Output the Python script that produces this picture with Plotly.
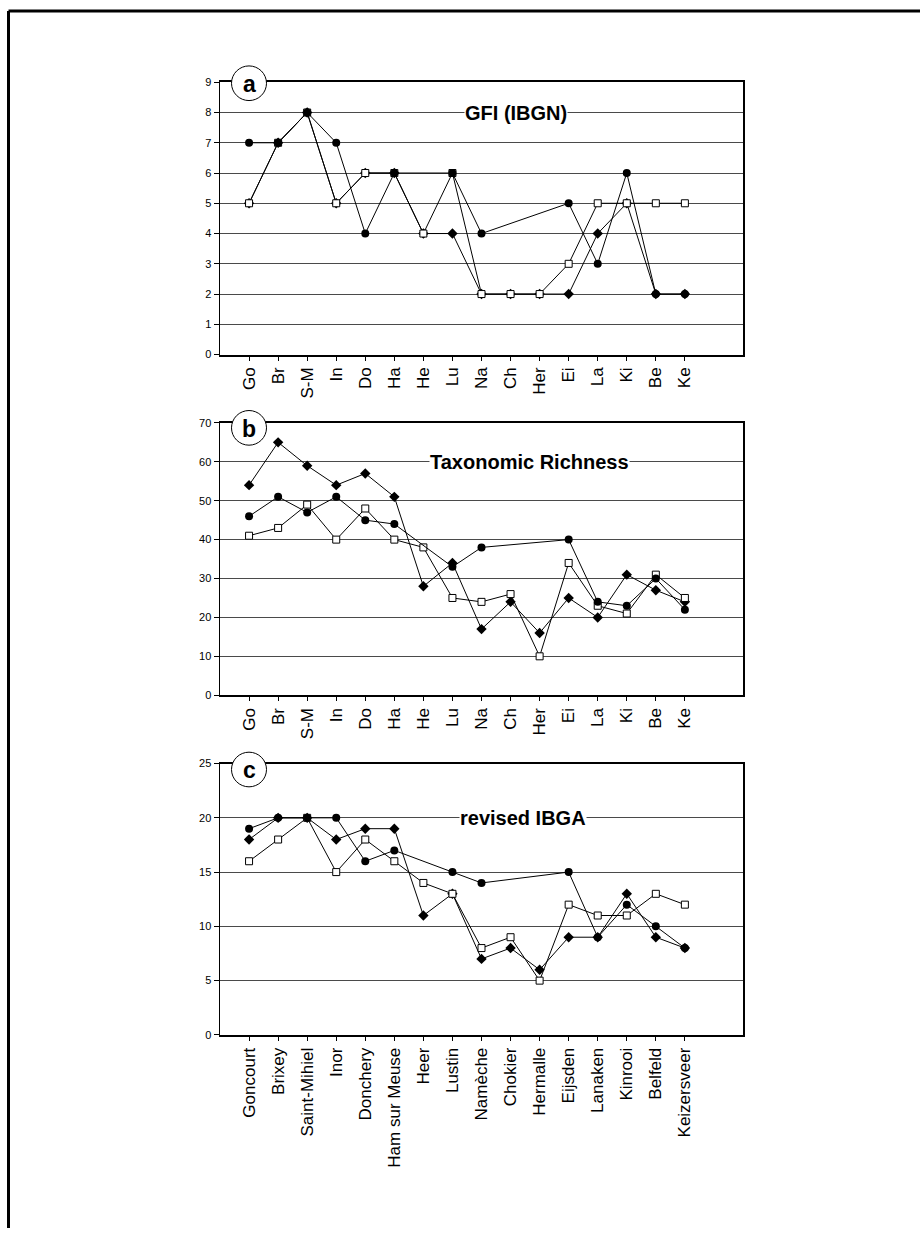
import plotly.graph_objects as go

# ---------------- data ----------------
short_labels = ["Go", "Br", "S-M", "In", "Do", "Ha", "He", "Lu", "Na", "Ch",
                "Her", "Ei", "La", "Ki", "Be", "Ke"]
long_labels = ["Goncourt", "Brixey", "Saint-Mihiel", "Inor", "Donchery",
               "Ham sur Meuse", "Heer", "Lustin", "Namèche", "Chokier",
               "Hermalle", "Eijsden", "Lanaken", "Kinrooi", "Belfeld",
               "Keizersveer"]
positions = list(range(16))

# panel a: GFI (IBGN)
gfi_circle = [7, 7, 8, 7, 4, 6, None, 6, 4, None, None, 5, 3, 6, 2, 2]
gfi_diamond = [5, 7, 8, 5, 6, 6, 4, 4, 2, 2, 2, 2, 4, 5, 2, 2]
gfi_square = [5, 7, 8, 5, 6, 6, 4, 6, 2, 2, 2, 3, 5, 5, 5, 5]

# panel b: Taxonomic Richness
tr_circle = [46, 51, 47, 51, 45, 44, None, 33, 38, None, None, 40, 24, 23, 30, 22]
tr_diamond = [54, 65, 59, 54, 57, 51, 28, 34, 17, 24, 16, 25, 20, 31, 27, 24]
tr_square = [41, 43, 49, 40, 48, 40, 38, 25, 24, 26, 10, 34, 23, 21, 31, 25]

# panel c: revised IBGA
ib_circle = [19, 20, 20, 20, 16, 17, None, 15, 14, None, None, 15, 9, 12, 10, 8]
ib_diamond = [18, 20, 20, 18, 19, 19, 11, 13, 7, 8, 6, 9, 9, 13, 9, 8]
ib_square = [16, 18, 20, 15, 18, 16, 14, 13, 8, 9, 5, 12, 11, 11, 13, 12]

panels = [
    dict(letter="a", title="GFI (IBGN)", ymax=9, dtick=1, title_y=8,
         labels=short_labels, series=(gfi_diamond, gfi_square, gfi_circle)),
    dict(letter="b", title="Taxonomic Richness", ymax=70, dtick=10, title_y=60,
         labels=short_labels, series=(tr_diamond, tr_square, tr_circle)),
    dict(letter="c", title="revised IBGA", ymax=25, dtick=5, title_y=20,
         labels=long_labels, series=(ib_diamond, ib_square, ib_circle)),
]

# ---------------- layout geometry (pixels) ----------------
W, H = 920, 1234
x_left, x_right = 220, 743
panel_px = [(77, 352), (421, 696), (765, 1039)]
circle_centers = [(249, 78), (249, 426), (249, 771)]
title_x_px = [516, 529, 523]
FONT = "Liberation Sans, Arial, sans-serif"


def py(p):
    return 1 - p / H


fig = go.Figure()
shapes = []
annotations = []

for i, pnl in enumerate(panels):
    n = "" if i == 0 else str(i + 1)
    xa, ya = "x" + n, "y" + n
    d, s, c = pnl["series"]
    fig.add_trace(go.Scatter(
        x=positions, y=d, xaxis=xa, yaxis=ya, mode="lines+markers",
        connectgaps=True, line=dict(color="black", width=1),
        marker=dict(symbol="diamond", size=8, color="black"),
        showlegend=False))
    fig.add_trace(go.Scatter(
        x=positions, y=s, xaxis=xa, yaxis=ya, mode="lines+markers",
        connectgaps=True, line=dict(color="black", width=1),
        marker=dict(symbol="square", size=7, color="white",
                    line=dict(color="black", width=1)),
        showlegend=False))
    fig.add_trace(go.Scatter(
        x=positions, y=c, xaxis=xa, yaxis=ya, mode="lines+markers",
        connectgaps=True, line=dict(color="black", width=1),
        marker=dict(symbol="circle", size=8, color="black"),
        showlegend=False))

    top, bot = panel_px[i]
    xkey = "xaxis" + n
    ykey = "yaxis" + n
    fig.layout[xkey] = dict(
        domain=[x_left / W, x_right / W], range=[-1, 17],
        anchor=ya, tickmode="array", tickvals=positions,
        ticktext=pnl["labels"], tickangle=-90,
        tickfont=dict(family=FONT, size=17, color="black"),
        ticks="outside", ticklen=4, tickcolor="black",
        showgrid=False, zeroline=False, showline=True, linecolor="black",
        linewidth=2, mirror=True, fixedrange=True)
    fig.layout[ykey] = dict(
        domain=[py(bot), py(top)], range=[0, pnl["ymax"]],
        anchor=xa, dtick=pnl["dtick"], tick0=0,
        tickfont=dict(family=FONT, size=11, color="black"),
        ticks="outside", ticklen=5, tickcolor="black",
        showgrid=True, gridcolor="#4a4a4a", gridwidth=1,
        zeroline=False, showline=True, linecolor="black", linewidth=1.5,
        mirror=True, fixedrange=True)

    # panel letter in circle
    cx, cy = circle_centers[i]
    r = 17.5
    shapes.append(dict(type="circle", xref="paper", yref="paper",
                       x0=(cx - r) / W, x1=(cx + r) / W,
                       y0=py(cy + r), y1=py(cy - r),
                       line=dict(color="black", width=1), fillcolor="white",
                       layer="above"))
    annotations.append(dict(text="<b>%s</b>" % pnl["letter"], xref="paper",
                            yref="paper", x=cx / W, y=py(cy + 1),
                            showarrow=False, xanchor="center",
                            yanchor="middle",
                            font=dict(family=FONT, size=23, color="black")))
    # title on gridline
    annotations.append(dict(text="<b>%s</b>" % pnl["title"], xref="paper",
                            yref=ya, x=title_x_px[i] / W, y=pnl["title_y"],
                            showarrow=False, xanchor="center",
                            yanchor="middle", bgcolor="white", borderpad=0,
                            font=dict(family=FONT, size=20, color="black")))

# outer frame (top and left lines)
shapes.append(dict(type="line", xref="paper", yref="paper",
                   x0=8.5 / W, x1=1.0, y0=py(5), y1=py(5),
                   line=dict(color="black", width=3)))
shapes.append(dict(type="line", xref="paper", yref="paper",
                   x0=8.5 / W, x1=8.5 / W, y0=py(5), y1=0,
                   line=dict(color="black", width=3)))

fig.update_layout(
    width=W, height=H, margin=dict(l=0, r=0, t=0, b=0),
    paper_bgcolor="white", plot_bgcolor="white",
    shapes=shapes, annotations=annotations, showlegend=False,
    font=dict(family=FONT, color="black"))

fig.write_html("out.html",
               config={"displayModeBar": False, "staticPlot": True},
               post_script="document.body.style.margin='0';"
                           "document.body.style.padding='0';")
